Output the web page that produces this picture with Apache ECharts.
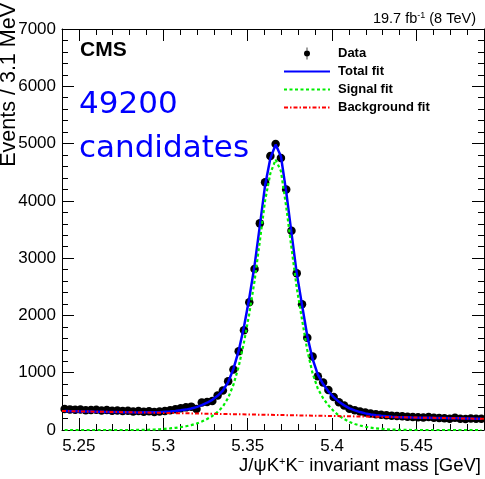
<!DOCTYPE html>
<html><head><meta charset="utf-8">
<script src="https://cdn.jsdelivr.net/npm/echarts@6/dist/echarts.min.js"></script>
<style>html,body{margin:0;padding:0;background:#fff}#c{width:485px;height:479px}</style>
</head><body><div id="c"></div>
<script>
// Histogram binning (80 bins of 3.125 MeV between 5.24 and 5.49 GeV)
const binLow = 5.24, binWidth = 0.003125;

// Events per bin
const dataCounts = [
  365, 360, 352, 358, 345, 350, 355, 340, 348, 335,
  342, 330, 338, 325, 332, 320, 328, 315, 322, 330,
  345, 362, 378, 395, 408, 368, 482, 490, 505, 603,
  690, 853, 1055, 1375, 1740, 2228, 2812, 3607, 4323, 4782,
  4991, 4747, 4200, 3478, 2735, 2194, 1611, 1283, 938, 830,
  700, 575, 486, 428, 370, 345, 325, 305, 290, 275,
  265, 258, 250, 245, 240, 232, 228, 222, 218, 225,
  212, 208, 205, 198, 212, 195, 190, 202, 198, 196
];

// Total fit curve sampled at bin centres
const totalFit = [
  330, 328, 327, 325, 323, 322, 320, 318, 316, 315,
  313, 311, 310, 308, 307, 308, 308, 309, 312, 318,
  324, 332, 343, 356, 374, 400, 433, 476, 527, 596,
  689, 837, 1066, 1384, 1802, 2301, 2869, 3560, 4270, 4744,
  4982, 4780, 4159, 3440, 2735, 2184, 1642, 1240, 968, 802,
  675, 573, 492, 430, 378, 342, 313, 290, 271, 258,
  247, 238, 232, 227, 223, 221, 218, 216, 214, 213,
  211, 209, 208, 206, 204, 203, 201, 199, 197, 196
];

// Signal fit curve sampled at bin centres
const signalFit = [
  0, 0, 0, 0, 0, 0, 0, 0, 0, 0,
  0, 0, 0, 0, 1, 3, 5, 8, 13, 20,
  28, 38, 50, 65, 85, 112, 147, 192, 245, 315,
  410, 560, 790, 1110, 1530, 2030, 2600, 3293, 4005, 4480,
  4720, 4520, 3900, 3183, 2480, 1930, 1390, 990, 720, 555,
  430, 330, 250, 190, 140, 105, 78, 57, 40, 28,
  19, 12, 7, 4, 2, 1, 0, 0, 0, 0,
  0, 0, 0, 0, 0, 0, 0, 0, 0, 0
];

// Background fit curve
const bkgMass = [5.24, 5.29, 5.34, 5.39, 5.44, 5.49];
const bkgFit = [331, 304, 277, 250, 223, 195];

// Tick positions
const xMajorTicks = [5.25, 5.3, 5.35, 5.4, 5.45];
const xMinorTicks = [5.24, 5.25, 5.26, 5.27, 5.28, 5.29, 5.3, 5.31, 5.32, 5.33, 5.34, 5.35, 5.36,
  5.37, 5.38, 5.39, 5.4, 5.41, 5.42, 5.43, 5.44, 5.45, 5.46, 5.47, 5.48, 5.49];
const legendNames = ['Data', 'Total fit', 'Signal fit', 'Background fit'];

const FF = '"Liberation Sans", Arial, Helvetica, sans-serif';
const centers = dataCounts.map((_, i) => +(binLow + (i + 0.5) * binWidth).toFixed(7));
const pairs = ys => ys.map((y, i) => [centers[i], y]);

const xBase = { type: 'value', min: 5.24, max: 5.49, splitLine: { show: false } };
const majorX = pos => Object.assign({}, xBase, {
  position: pos,
  axisLine: { show: true, lineStyle: { color: '#000', width: 1 } },
  axisTick: { show: true, inside: true, length: 12, customValues: xMajorTicks, lineStyle: { color: '#000' } },
  axisLabel: pos === 'bottom'
    ? { show: true, customValues: xMajorTicks, fontSize: 17, color: '#000', margin: 8, fontFamily: FF }
    : { show: false }
});
const minorX = pos => Object.assign({}, xBase, {
  position: pos,
  axisLine: { show: false },
  axisTick: { show: true, inside: true, length: 6, customValues: xMinorTicks, lineStyle: { color: '#000' } },
  axisLabel: { show: false }
});
const yAx = pos => ({
  type: 'value', min: 0, max: 7000, interval: 1000, position: pos,
  axisLine: { show: true, lineStyle: { color: '#000', width: 1 } },
  axisTick: { show: true, inside: true, length: 12, lineStyle: { color: '#000' } },
  minorTick: { show: true, splitNumber: 5, length: 6, lineStyle: { color: '#000' } },
  axisLabel: pos === 'left'
    ? { show: true, fontSize: 17, color: '#000', margin: 6, fontFamily: FF, formatter: v => String(v) }
    : { show: false },
  splitLine: { show: false }, minorSplitLine: { show: false }
});

const chart = echarts.init(document.getElementById('c'), null, { renderer: 'canvas' });
chart.setOption({
  animation: false,
  backgroundColor: '#fff',
  grid: { left: 62, right: 1, top: 29, bottom: 49, containLabel: false },
  xAxis: [majorX('bottom'), minorX('bottom'), majorX('top'), minorX('top')],
  yAxis: [yAx('left'), yAx('right')],
  legend: {
    orient: 'vertical', left: 278, top: 42, itemWidth: 46, itemHeight: 12, itemGap: 5,
    selectedMode: false,
    textStyle: { fontSize: 13, fontWeight: 'bold', color: '#000', fontFamily: FF, padding: [0, 0, 0, 3] },
    data: [
      { name: legendNames[0], icon: 'path://M4.5,0 L5.5,0 L5.5,16 L4.5,16 Z M1,8 A4,4 0 1,1 9,8 A4,4 0 1,1 1,8 Z',
        itemStyle: { color: '#000', opacity: 1 } },
      { name: legendNames[1], itemStyle: { opacity: 0 } },
      { name: legendNames[2], itemStyle: { opacity: 0 } },
      { name: legendNames[3], itemStyle: { opacity: 0 } }
    ]
  },
  series: [
    { name: legendNames[0], type: 'scatter', data: pairs(dataCounts), symbol: 'circle', symbolSize: 8.5,
      itemStyle: { color: '#000', opacity: 1 }, z: 2, silent: true },
    { name: legendNames[1], type: 'line', data: pairs(totalFit), symbol: 'none', showSymbol: false,
      lineStyle: { color: '#0000ff', width: 2.5 }, itemStyle: { color: '#0000ff' }, z: 3, silent: true },
    { name: legendNames[2], type: 'line', data: pairs(signalFit), symbol: 'none', showSymbol: false,
      lineStyle: { color: '#00ee00', width: 2.2, type: [3, 2.5] }, itemStyle: { color: '#00ee00' }, z: 4, silent: true },
    { name: legendNames[3], type: 'line', data: bkgMass.map((m, i) => [m, bkgFit[i]]), symbol: 'none', showSymbol: false,
      lineStyle: { color: '#ff0000', width: 2, type: [4, 2, 1.5, 2] }, itemStyle: { color: '#ff0000' }, z: 5, silent: true }
  ],
  graphic: [
    { type: 'text', x: 80, y: 50, silent: true,
      style: { text: 'CMS', fontSize: 21, fontWeight: 'bold', fill: '#000', fontFamily: FF, align: 'left', verticalAlign: 'middle' } },
    { type: 'text', x: 79, y: 105, silent: true,
      style: { text: '49200', fontSize: 31, fill: '#0000ff', fontFamily: '"DejaVu Sans", sans-serif', align: 'left', verticalAlign: 'middle' } },
    { type: 'text', x: 79, y: 149, silent: true,
      style: { text: 'candidates', fontSize: 31, fill: '#0000ff', fontFamily: '"DejaVu Sans", sans-serif', align: 'left', verticalAlign: 'middle' } },
    { type: 'text', x: 476, y: 19, silent: true,
      style: { text: '{a|19.7 fb}{s|-1}{a| (8 TeV)}', align: 'right', verticalAlign: 'middle', fill: '#000',
        rich: { a: { fontSize: 14.5, fontFamily: FF, fill: '#000' }, s: { fontSize: 9, fontFamily: FF, fill: '#000', verticalAlign: 'top' } } } },
    { type: 'text', x: 481, y: 466, silent: true,
      style: { text: '{a|J/ψK}{s|+}{a|K}{s|−}{a| invariant mass [GeV]}', align: 'right', verticalAlign: 'middle', fill: '#000',
        rich: { a: { fontSize: 18.5, fontFamily: FF, fill: '#000' }, s: { fontSize: 11, fontFamily: FF, fill: '#000', verticalAlign: 'top' } } } },
    { type: 'text', x: 9, y: 3, rotation: Math.PI / 2, silent: true,
      style: { text: 'Events / 3.1 MeV', fontSize: 21.5, fontFamily: FF, fill: '#000', align: 'right', verticalAlign: 'middle' } }
  ]
});
</script>
</body></html>
